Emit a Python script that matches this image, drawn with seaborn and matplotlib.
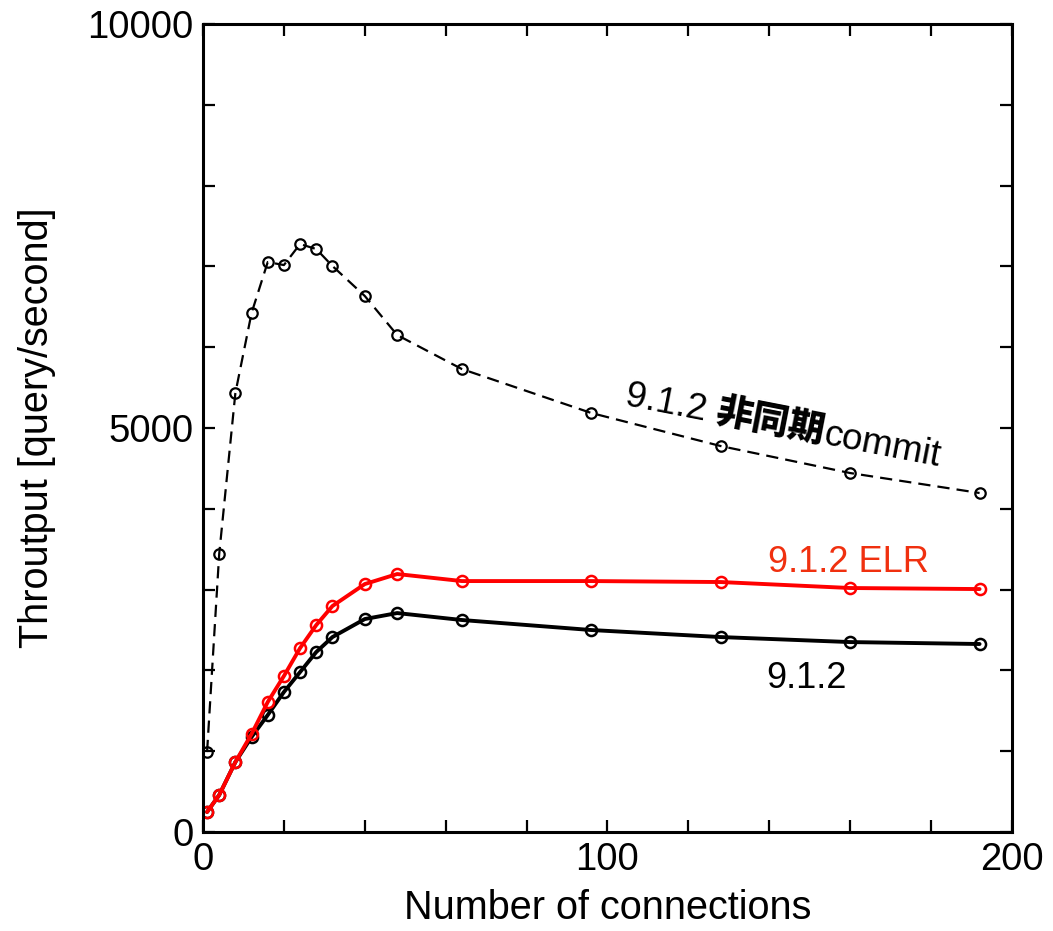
import numpy as np
import pandas as pd
import matplotlib
matplotlib.use("Agg")
import matplotlib.pyplot as plt
import matplotlib.transforms as mtransforms
from matplotlib.ticker import MultipleLocator
import seaborn as sns

# ---- data ----
connections = [1, 4, 8, 12, 16, 20, 24, 28, 32, 40, 48, 64, 96, 128, 160, 192]
async_commit = [990, 3441, 5433, 6423, 7054, 7017, 7277, 7215, 7005, 6634, 6151, 5730, 5186, 4777, 4443, 4196]
elr = [248, 458, 866, 1213, 1609, 1931, 2277, 2562, 2797, 3069, 3193, 3106, 3106, 3094, 3020, 3007]
base = [248, 458, 866, 1176, 1448, 1733, 1980, 2228, 2413, 2636, 2710, 2624, 2500, 2413, 2351, 2327]

label_async = ["9.1.2 ", "非同期", "commit"]
label_elr = "9.1.2 ELR"
label_base = "9.1.2"
xlabel = "Number of connections"
ylabel = "Throutput [query/second]"

sns.set_style("ticks")
plt.rcParams["font.family"] = ["Liberation Sans", "Noto Sans CJK JP", "DejaVu Sans"]
plt.rcParams["text.color"] = "black"
plt.rcParams["axes.labelcolor"] = "black"
plt.rcParams["xtick.color"] = "black"
plt.rcParams["ytick.color"] = "black"
plt.rcParams["axes.edgecolor"] = "black"

fig = plt.figure(figsize=(10.53, 9.31), dpi=100)
ax = fig.add_axes([0.1928, 0.1063, 0.961 - 0.1928, 0.9742 - 0.1063])

sns.lineplot(x=connections, y=async_commit, ax=ax, color="black", linewidth=1.6,
             linestyle=(0, (5.5, 3.2)), marker="o", markersize=7.5,
             markerfacecolor="none", markeredgecolor="black", markeredgewidth=1.6)
sns.lineplot(x=connections, y=base, ax=ax, color="black", linewidth=2.8,
             marker="o", markersize=8, markerfacecolor="none",
             markeredgecolor="black", markeredgewidth=1.8)
sns.lineplot(x=connections, y=elr, ax=ax, color="#ff0000", linewidth=2.8,
             marker="o", markersize=8, markerfacecolor="none",
             markeredgecolor="#ff0000", markeredgewidth=1.8)

ax.set_xlim(0, 200)
ax.set_ylim(0, 10000)
ax.xaxis.set_major_locator(MultipleLocator(100))
ax.xaxis.set_minor_locator(MultipleLocator(20))
ax.yaxis.set_major_locator(MultipleLocator(5000))
ax.yaxis.set_minor_locator(MultipleLocator(1000))
ax.tick_params(which="both", direction="in", top=True, right=True,
               length=8.5, width=1.6, color="black", labelcolor="black")
ax.tick_params(which="major", labelsize=27.5, pad=7)
for s in ax.spines.values():
    s.set_visible(True)
    s.set_linewidth(2.2)
    s.set_color("black")

ax.set_xlabel(xlabel, fontsize=28.5, labelpad=8, color="black")
ax.set_ylabel(ylabel, fontsize=28.5, labelpad=22, color="black")

ax.text(139.7, 3218, label_elr, fontsize=26, color="#f0300f", ha="left", va="baseline")
ax.text(139.2, 1782, label_base, fontsize=26, color="black", ha="left", va="baseline")

# rotated mixed-weight label
fig.canvas.draw()
renderer = fig.canvas.get_renderer()
rot = -11.0
cs, sn = np.cos(np.radians(rot)), np.sin(np.radians(rot))
styles = [dict(fontsize=26.5, family=["Liberation Sans", "Noto Sans CJK JP"]),
          dict(fontsize=26.5, family=["Noto Sans CJK JP", "Liberation Sans"], fontweight="heavy"),
          dict(fontsize=26.5, family=["Liberation Sans", "Noto Sans CJK JP"])]

def text_width(s, kw):
    t1 = ax.text(0, 0, s + "x", **kw)
    t2 = ax.text(0, 0, "x", **kw)
    w = t1.get_window_extent(renderer).width - t2.get_window_extent(renderer).width
    t1.remove(); t2.remove()
    return w

offset = 0.0
x0, y0 = 104.0, 5285
for s, kw in zip(label_async, styles):
    tr = mtransforms.offset_copy(ax.transData, fig=fig, x=offset * cs, y=offset * sn, units="dots")
    ax.text(x0, y0, s, transform=tr, rotation=rot, rotation_mode="anchor",
            ha="left", va="baseline", color="black", **kw)
    offset += text_width(s, kw)

fig.savefig("out.png", dpi=100)
